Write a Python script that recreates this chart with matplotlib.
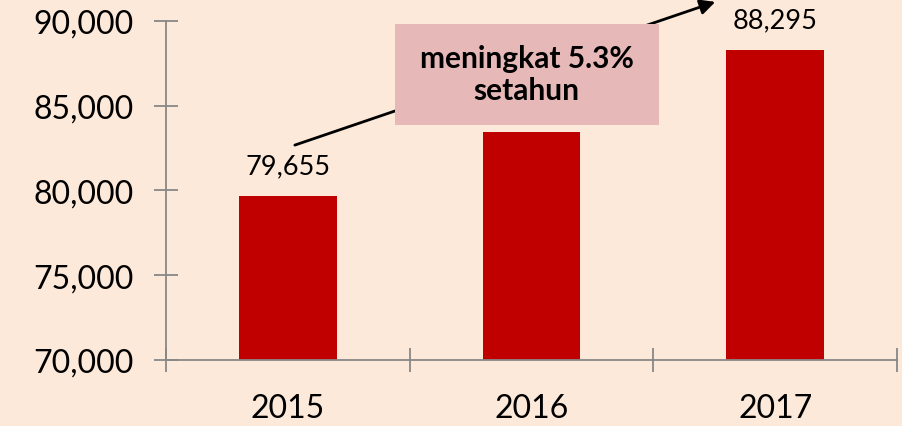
import matplotlib.pyplot as plt
from matplotlib.patches import Rectangle
from matplotlib.ticker import FuncFormatter, FixedLocator

years = ['2015', '2016', '2017']
values = [79655, 83450, 88295]
shown_labels = [True, False, True]
y_ticks = [70000, 75000, 80000, 85000, 90000]
note_text = 'meningkat 5.3%\nsetahun'

bg = '#FDE9D9'
bar_color = '#C00000'
box_color = '#E6B9B8'
axis_color = '#888888'

plt.rcParams['font.family'] = ['Lato', 'DejaVu Sans']

fig = plt.figure(figsize=(9.03, 4.27), dpi=100)
fig.patch.set_facecolor(bg)
ax = fig.add_axes([0.1838, 0.1546, 0.8096, 0.7939])
ax.set_facecolor(bg)

x = list(range(len(years)))
ax.bar(x, values, width=0.4, color=bar_color, zorder=2)

ax.set_xlim(-0.5, len(years) - 0.5)
ax.set_ylim(70000, 90000)
ax.set_yticks(y_ticks)
ax.yaxis.set_major_formatter(FuncFormatter(lambda v, p: f'{int(v):,}'))

# category boundaries carry the tick marks, centres carry the labels
ax.xaxis.set_major_locator(FixedLocator([i - 0.5 for i in range(len(years) + 1)]))
ax.xaxis.set_major_formatter(FuncFormatter(lambda v, p: ''))
ax.xaxis.set_minor_locator(FixedLocator(x))
ax.set_xticklabels(years, minor=True)

ax.tick_params(axis='both', which='major', direction='inout', length=17,
               width=1.3, color=axis_color)
ax.tick_params(axis='y', labelsize=23, pad=15)
ax.tick_params(axis='x', which='minor', length=0, labelsize=23, pad=24)

for s in ['top', 'right']:
    ax.spines[s].set_visible(False)
for s in ['left', 'bottom']:
    ax.spines[s].set_color(axis_color)
    ax.spines[s].set_linewidth(1.3)

for xi, v, show in zip(x, values, shown_labels):
    if show:
        ax.annotate(f'{v:,}', (xi, v), xytext=(0, 13), textcoords='offset points',
                    ha='center', va='bottom', fontsize=19.5)

# growth arrow running behind the note box
ax.annotate('', xy=(1.765, 91180), xytext=(0.018, 82625),
            arrowprops=dict(arrowstyle='-|>,head_length=0.9,head_width=0.45',
                            color='black', lw=2),
            annotation_clip=False, zorder=3)

ax.add_patch(Rectangle((0.441, 83865), 1.081, 5958, facecolor=box_color,
                       edgecolor='none', zorder=4, clip_on=False))
ax.text(0.98, 86870, note_text, ha='center', va='center', fontsize=21.5,
        fontweight='bold', linespacing=1.2, zorder=5)

fig.savefig('out.png', dpi=100, facecolor=bg)
